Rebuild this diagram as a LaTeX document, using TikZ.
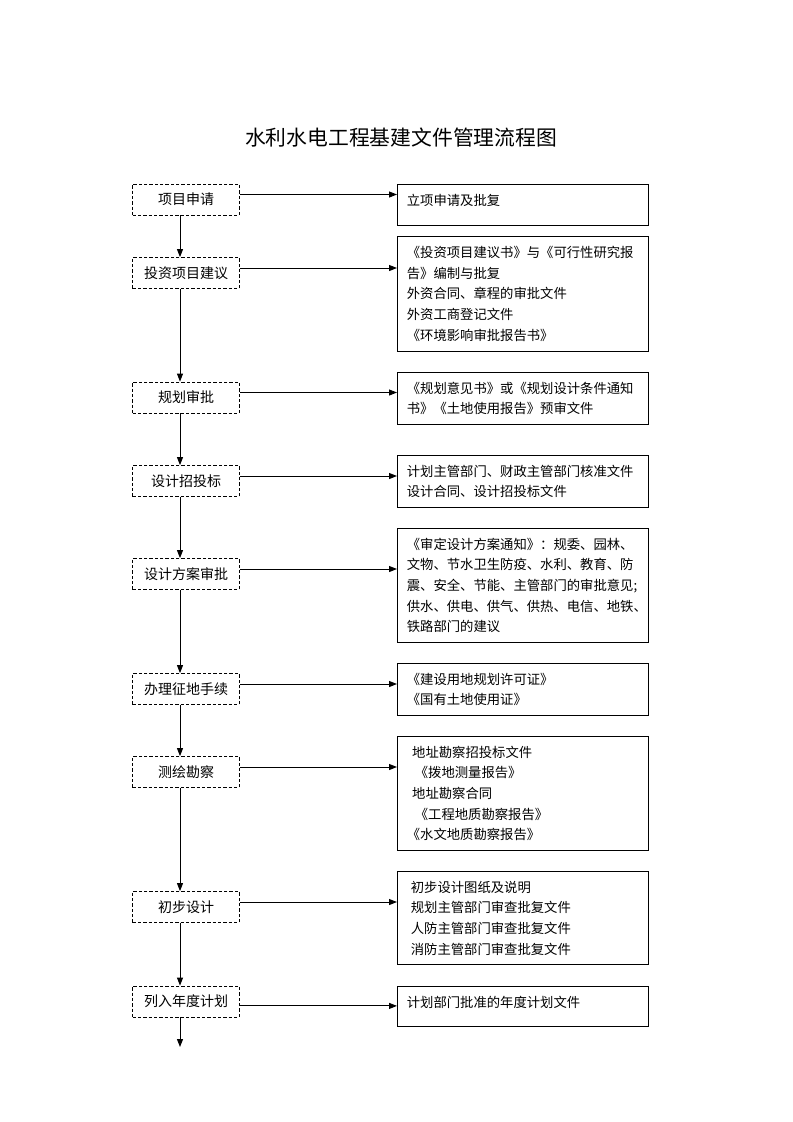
\documentclass[tikz,border=0pt]{standalone}
\usepackage{fontspec}
\newfontfamily\cjk{Noto Sans CJK SC}
\usetikzlibrary{arrows.meta}

\begin{document}
\begin{tikzpicture}[x=0.75pt,y=-0.75pt,
		stepbox/.style={draw,dash pattern=on 2.5pt off 1.5pt,line width=0.6pt,minimum width=79.9pt,minimum height=23.25pt,inner sep=0pt,font=\cjk\fontsize{10.5pt}{12pt}\selectfont},
		docbox/.style={draw,line width=0.75pt,anchor=north west,text width=174.6pt,inner xsep=7pt,inner ysep=7.3pt,align=left,font=\cjk\fontsize{10pt}{15.5pt}\selectfont},
		flow/.style={line width=0.75pt,-{Triangle[length=6pt,width=4.5pt]}}]
	\useasboundingbox (0,0) rectangle (793,1122); % the whole page
	\node (Title) at (401,138) [font=\cjk\fontsize{15.6pt}{18pt}\selectfont]{水利水电工程基建文件管理流程图};
	
	% steps on the left
	\node (S1) at (186,199.5) [stepbox]{项目申请};
	\node (S2) at (186,273) [stepbox]{投资项目建议};
	\node (S3) at (186,397.5) [stepbox]{规划审批};
	\node (S4) at (186,481) [stepbox]{设计招投标};
	\node (S5) at (186,574) [stepbox]{设计方案审批};
	\node (S6) at (186,689) [stepbox]{办理征地手续};
	\node (S7) at (186,772) [stepbox]{测绘勘察};
	\node (S8) at (186,907) [stepbox]{初步设计};
	\node (S9) at (186,1001.5) [stepbox]{列入年度计划};
	
	% documents on the right
	\node (D1) at (397,184.3) [docbox,text depth=7.8pt]{立项申请及批复};
	\node (D2) at (397,236) [docbox]{《投资项目建议书》与《可行性研究报\\告》编制与批复\\外资合同、章程的审批文件\\外资工商登记文件\\《环境影响审批报告书》};
	\node (D3) at (397,371.5) [docbox]{《规划意见书》或《规划设计条件通知\\书》《土地使用报告》预审文件};
	\node (D4) at (397,454.7) [docbox]{计划主管部门、财政主管部门核准文件\\设计合同、设计招投标文件};
	\node (D5) at (397,527.7) [docbox]{《审定设计方案通知》：规委、园林、\\文物、节水卫生防疫、水利、教育、防\\震、安全、节能、主管部门的审批意见;\\供水、供电、供气、供热、电信、地铁、\\铁路部门的建议};
	\node (D6) at (397,662.7) [docbox]{《建设用地规划许可证》\\《国有土地使用证》};
	\node (D7) at (397,735.7) [docbox]{\hspace*{0.4em}地址勘察招投标文件\\\hspace*{0.6em}《拨地测量报告》\\\hspace*{0.4em}地址勘察合同\\\hspace*{0.6em}《工程地质勘察报告》\\《水文地质勘察报告》};
	\node (D8) at (397,870.7) [docbox]{\hspace*{0.3em}初步设计图纸及说明\\\hspace*{0.3em}规划主管部门审查批复文件\\\hspace*{0.3em}人防主管部门审查批复文件\\\hspace*{0.3em}消防主管部门审查批复文件};
	\node (D9) at (397,985.7) [docbox,text depth=7.5pt]{计划部门批准的年度计划文件};
	
	\foreach \a/\b in {1/2,2/3,3/4,4/5,5/6,6/7,7/8,8/9}{% down the steps
		\draw[flow] ([xshift=-4.5pt]S\a.south) -- ([xshift=-4.5pt]S\b.north);
	}
	\coordinate (Tail) at (180,1047);
	\draw[flow] ([xshift=-4.5pt]S9.south) -- (Tail);
	
	\foreach \i/\dy in {1/3.75,2/3.75,3/3.75,4/3.75,5/3.75,6/3.75,7/3.75,8/3.75,9/-3.3}{% step to its files
		\coordinate (From\i) at ([yshift=\dy pt]S\i.east);
		\draw[flow] (From\i) -- (From\i -| D\i.west);
	}
\end{tikzpicture}
\end{document}
